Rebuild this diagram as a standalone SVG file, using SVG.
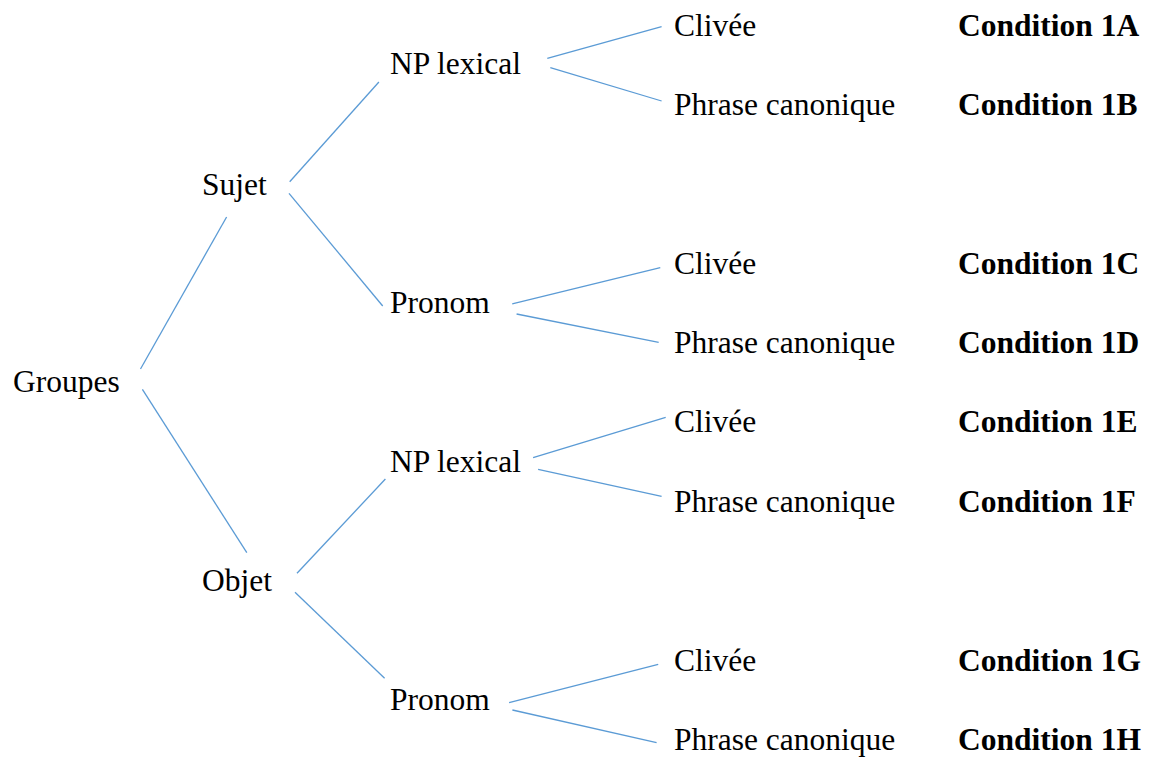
<svg xmlns="http://www.w3.org/2000/svg" width="1149" height="758" viewBox="0 0 1149 758">
<rect width="1149" height="758" fill="#fff"/>
<g id="connectors" stroke="#5b9bd5" stroke-width="1.3" fill="none">
<line x1="140.5" y1="369" x2="226.6" y2="217"/>
<line x1="142.4" y1="389.3" x2="246.8" y2="552.7"/>
<line x1="289.7" y1="181.7" x2="378.9" y2="82"/>
<line x1="289" y1="193.3" x2="382.7" y2="306"/>
<line x1="297" y1="573.3" x2="385.4" y2="479"/>
<line x1="295" y1="592.3" x2="384.6" y2="678.3"/>
<line x1="547.3" y1="58.3" x2="661.6" y2="26.7"/>
<line x1="550.3" y1="67.7" x2="661.6" y2="101"/>
<line x1="512.2" y1="303.8" x2="660.3" y2="267.7"/>
<line x1="516.6" y1="314" x2="658.7" y2="342.3"/>
<line x1="533.1" y1="457.7" x2="665.7" y2="417.3"/>
<line x1="538.1" y1="469.3" x2="661.6" y2="496.3"/>
<line x1="509.1" y1="702.7" x2="658.2" y2="664.3"/>
<line x1="512.4" y1="710" x2="656.6" y2="742.7"/>
</g>
<g id="nodes" font-family="Liberation Serif, serif" font-size="31.5" fill="#000">
<g id="groupes"><text style="font-family:'Liberation Serif',serif !important" font-family="Liberation Serif" x="13" y="392">Groupes</text></g>
<g id="sujet"><text style="font-family:'Liberation Serif',serif !important" font-family="Liberation Serif" x="202" y="195">Sujet</text></g>
<g id="objet"><text style="font-family:'Liberation Serif',serif !important" font-family="Liberation Serif" x="202" y="591">Objet</text></g>
<g id="np1"><text style="font-family:'Liberation Serif',serif !important" font-family="Liberation Serif" x="390" y="74">NP lexical</text></g>
<g id="pronom1"><text style="font-family:'Liberation Serif',serif !important" font-family="Liberation Serif" x="390" y="313">Pronom</text></g>
<g id="np2"><text style="font-family:'Liberation Serif',serif !important" font-family="Liberation Serif" x="390" y="472">NP lexical</text></g>
<g id="pronom2"><text style="font-family:'Liberation Serif',serif !important" font-family="Liberation Serif" x="390" y="710">Pronom</text></g>
<g id="clivee1"><text style="font-family:'Liberation Serif',serif !important" font-family="Liberation Serif" x="674" y="36">Clivée</text></g>
<g id="phrase1"><text style="font-family:'Liberation Serif',serif !important" font-family="Liberation Serif" x="674" y="115">Phrase canonique</text></g>
<g id="clivee2"><text style="font-family:'Liberation Serif',serif !important" font-family="Liberation Serif" x="674" y="274">Clivée</text></g>
<g id="phrase2"><text style="font-family:'Liberation Serif',serif !important" font-family="Liberation Serif" x="674" y="353">Phrase canonique</text></g>
<g id="clivee3"><text style="font-family:'Liberation Serif',serif !important" font-family="Liberation Serif" x="674" y="432">Clivée</text></g>
<g id="phrase3"><text style="font-family:'Liberation Serif',serif !important" font-family="Liberation Serif" x="674" y="512">Phrase canonique</text></g>
<g id="clivee4"><text style="font-family:'Liberation Serif',serif !important" font-family="Liberation Serif" x="674" y="671">Clivée</text></g>
<g id="phrase4"><text style="font-family:'Liberation Serif',serif !important" font-family="Liberation Serif" x="674" y="750">Phrase canonique</text></g>
<g id="conditions" font-weight="bold">
<g id="cond1A"><text style="font-family:'Liberation Serif',serif !important" font-family="Liberation Serif" x="958" y="36">Condition 1A</text></g>
<g id="cond1B"><text style="font-family:'Liberation Serif',serif !important" font-family="Liberation Serif" x="958" y="115">Condition 1B</text></g>
<g id="cond1C"><text style="font-family:'Liberation Serif',serif !important" font-family="Liberation Serif" x="958" y="274">Condition 1C</text></g>
<g id="cond1D"><text style="font-family:'Liberation Serif',serif !important" font-family="Liberation Serif" x="958" y="353">Condition 1D</text></g>
<g id="cond1E"><text style="font-family:'Liberation Serif',serif !important" font-family="Liberation Serif" x="958" y="432">Condition 1E</text></g>
<g id="cond1F"><text style="font-family:'Liberation Serif',serif !important" font-family="Liberation Serif" x="958" y="512">Condition 1F</text></g>
<g id="cond1G"><text style="font-family:'Liberation Serif',serif !important" font-family="Liberation Serif" x="958" y="671">Condition 1G</text></g>
<g id="cond1H"><text style="font-family:'Liberation Serif',serif !important" font-family="Liberation Serif" x="958" y="750">Condition 1H</text></g>
</g>
</g>
</svg>
